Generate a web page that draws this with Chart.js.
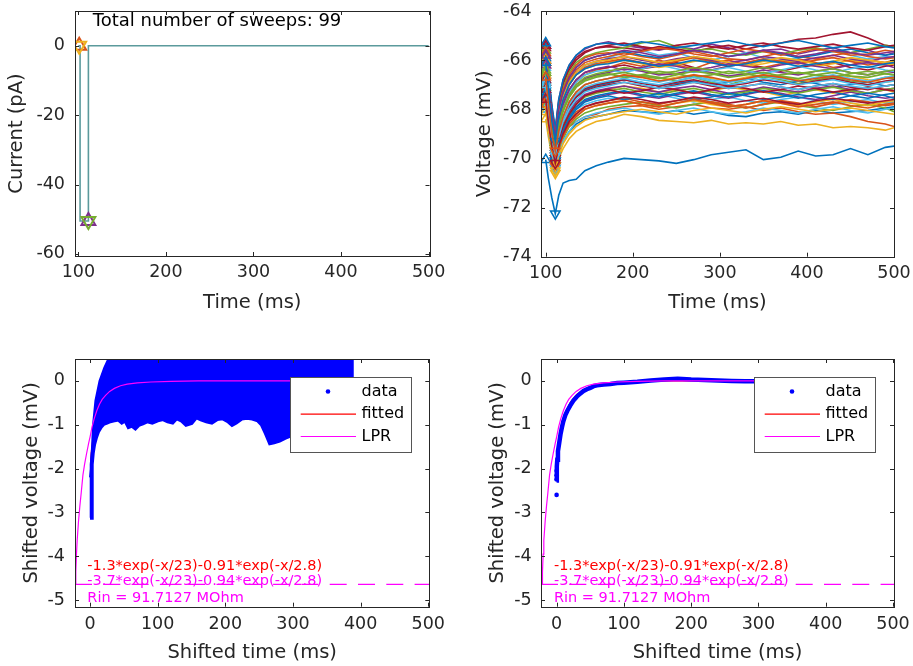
<!DOCTYPE html>
<html><head><meta charset="utf-8">
<script src="https://cdn.jsdelivr.net/npm/chart.js@4.4.1/dist/chart.umd.min.js"></script>
<style>
html,body{margin:0;padding:0;background:#fff;width:913px;height:666px;overflow:hidden}
canvas{position:absolute}
</style></head><body>
<canvas id="c1" width="456" height="333" style="left:0;top:0"></canvas>
<canvas id="c2" width="457" height="333" style="left:456px;top:0"></canvas>
<canvas id="c3" width="456" height="333" style="left:0;top:333px"></canvas>
<canvas id="c4" width="457" height="333" style="left:456px;top:333px"></canvas>
<script>
// ---------------- DATA ----------------
const sweepCount = 99;
const currentTimes = [100, 102, 102, 111.5, 111.5, 500];
const currentValues = [0, 0, -50.5, -50.5, 0, 0];
const currentMarkerTimes = [101, 111.5];
const currentMarkerValues = [0, -50.5];

const sweepTimes = [100,103,107,111,115,120,127,135,145,158,172,190,210,230,250,270,290,310,330,350,370,390,410,430,450,470,490,500];
const sweepVoltages = [
 [-70.05,-70.8,-71.6,-72.25,-71.5,-71.0,-70.9,-70.85,-70.5,-70.3,-70.15,-70.0,-70.05,-70.1,-70.2,-70.05,-69.85,-69.75,-69.65,-70.05,-69.95,-69.7,-69.9,-69.85,-69.6,-69.85,-69.55,-69.5],
 [-66.1,-67.3,-68.6,-69.5,-68.5,-67.8,-67.3,-66.9,-66.6,-66.4,-66.3,-66.1,-66.25,-66.0,-66.2,-66.35,-66.1,-66.0,-66.2,-66.3,-66.15,-65.95,-66.1,-66.3,-66.2,-66.0,-66.1,-66.15],
 [-68.4,-69.1,-69.9,-70.6,-70.0,-69.6,-69.2,-68.9,-68.7,-68.5,-68.4,-68.2,-68.3,-68.45,-68.5,-68.55,-68.45,-68.6,-68.55,-68.6,-68.5,-68.65,-68.6,-68.75,-68.7,-68.75,-68.85,-68.75],
 [-65.4,-66.6,-68.0,-68.9,-67.6,-66.8,-66.2,-65.8,-65.55,-65.35,-65.25,-65.4,-65.5,-65.6,-65.45,-65.55,-65.35,-65.5,-65.7,-65.6,-65.55,-65.75,-65.6,-65.5,-65.7,-65.6,-65.8,-65.7],
 [-66.9,-68.0,-69.1,-69.8,-69.0,-68.4,-67.9,-67.5,-67.2,-67.0,-66.9,-66.75,-66.6,-66.7,-66.85,-66.7,-66.9,-67.0,-66.8,-66.65,-66.8,-66.95,-66.8,-66.7,-66.85,-66.9,-66.7,-66.75],
 [-65.8,-67.0,-68.3,-69.2,-68.2,-67.5,-66.9,-66.6,-66.3,-66.1,-65.9,-65.7,-65.6,-65.8,-65.7,-65.9,-66.0,-65.85,-65.7,-65.9,-66.05,-65.9,-65.75,-65.6,-65.8,-65.95,-65.85,-65.9],
 [-65.5,-66.7,-68.0,-69.0,-67.8,-67.0,-66.4,-66.0,-65.7,-65.5,-65.45,-65.5,-65.6,-65.45,-65.55,-65.65,-65.5,-65.4,-65.55,-65.4,-65.3,-65.15,-65.1,-64.95,-64.85,-65.1,-65.4,-65.45],
 [-68.0,-68.8,-69.7,-70.4,-69.8,-69.3,-68.9,-68.6,-68.4,-68.3,-68.2,-68.05,-68.1,-68.15,-68.05,-68.2,-68.1,-68.25,-68.3,-68.15,-68.1,-68.2,-68.05,-68.15,-68.1,-68.05,-67.95,-67.9],
 [-67.7,-68.6,-69.6,-70.3,-69.6,-69.1,-68.7,-68.5,-68.3,-68.2,-68.0,-67.9,-67.85,-68.0,-67.9,-67.8,-67.95,-68.0,-67.9,-68.05,-67.95,-68.1,-68.2,-68.15,-68.3,-68.5,-68.6,-68.7],
 [-67.1,-68.2,-69.3,-70.0,-69.2,-68.6,-68.1,-67.7,-67.45,-67.3,-67.2,-67.05,-67.15,-67.3,-67.2,-67.35,-67.25,-67.1,-67.2,-67.3,-67.45,-67.3,-67.2,-67.35,-67.25,-67.1,-67.2,-67.3],
 [-66.6,-67.6,-68.8,-69.6,-68.7,-68.0,-67.4,-67.0,-66.75,-66.6,-66.5,-66.35,-66.45,-66.6,-66.55,-66.4,-66.5,-66.65,-66.55,-66.4,-66.5,-66.6,-66.45,-66.35,-66.5,-66.6,-66.45,-66.5],
 [-65.6,-66.8,-68.1,-69.0,-67.9,-67.1,-66.5,-66.1,-65.85,-65.7,-65.6,-65.5,-65.3,-65.2,-65.45,-65.6,-65.55,-65.7,-65.8,-65.65,-65.75,-65.6,-65.5,-65.65,-65.7,-65.55,-65.4,-65.45],
 [-67.6,-68.5,-69.5,-70.2,-69.4,-68.9,-68.4,-68.0,-67.8,-67.65,-67.55,-67.6,-67.5,-67.4,-67.55,-67.7,-67.6,-67.5,-67.65,-67.75,-67.6,-67.5,-67.65,-67.8,-67.7,-67.6,-67.75,-67.7],
 [-66.2,-67.3,-68.6,-69.4,-68.4,-67.7,-67.2,-66.8,-66.5,-66.35,-66.3,-66.2,-66.35,-66.25,-66.1,-66.3,-66.4,-66.25,-66.15,-66.3,-66.45,-66.3,-66.2,-66.1,-66.3,-66.4,-66.25,-66.2],
 [-67.0,-68.0,-69.2,-69.9,-69.1,-68.5,-67.9,-67.5,-67.2,-67.05,-66.95,-66.8,-66.9,-67.05,-66.95,-66.85,-67.0,-66.9,-66.75,-66.9,-67.0,-66.85,-66.95,-67.1,-67.0,-66.9,-67.05,-67.0],
 [-65.8,-67.0,-68.3,-69.1,-68.1,-67.4,-66.8,-66.4,-66.1,-65.95,-65.85,-65.7,-65.85,-65.95,-65.8,-65.65,-65.8,-65.95,-66.0,-65.85,-65.7,-65.85,-65.95,-65.8,-65.7,-65.85,-65.95,-65.9],
 [-66.6,-67.7,-68.9,-69.7,-68.9,-68.3,-67.7,-67.3,-67.0,-66.85,-66.75,-66.6,-66.7,-66.85,-66.7,-66.6,-66.75,-66.85,-66.7,-66.6,-66.7,-66.8,-66.9,-66.75,-66.65,-66.8,-66.9,-66.85],
 [-67.5,-68.4,-69.4,-70.1,-69.4,-68.8,-68.3,-67.9,-67.65,-67.5,-67.4,-67.3,-67.45,-67.55,-67.4,-67.3,-67.45,-67.55,-67.4,-67.25,-67.35,-67.5,-67.6,-67.45,-67.3,-67.45,-67.55,-67.5],
 [-67.9,-68.7,-69.6,-70.3,-69.7,-69.2,-68.7,-68.4,-68.15,-68.0,-67.9,-67.8,-67.7,-67.85,-67.95,-67.8,-67.7,-67.85,-67.95,-67.8,-67.7,-67.85,-67.95,-68.05,-67.9,-67.8,-67.95,-68.1],
 [-66.3,-67.4,-68.7,-69.5,-68.6,-67.9,-67.3,-66.9,-66.6,-66.45,-66.4,-66.5,-66.35,-66.2,-66.35,-66.5,-66.4,-66.3,-66.45,-66.55,-66.4,-66.25,-66.4,-66.5,-66.35,-66.25,-66.4,-66.45],
 [-66.9,-68.0,-69.2,-69.9,-69.1,-68.5,-67.9,-67.5,-67.25,-67.1,-67.0,-66.9,-67.05,-67.15,-67.0,-66.9,-67.05,-67.15,-67.05,-66.95,-67.1,-67.2,-67.05,-66.95,-67.1,-67.2,-67.05,-67.0],
 [-65.9,-67.0,-68.3,-69.1,-68.0,-67.3,-66.7,-66.3,-66.0,-65.85,-65.75,-65.65,-65.8,-65.9,-65.75,-65.6,-65.7,-65.85,-65.75,-65.6,-65.75,-65.9,-65.8,-65.65,-65.55,-65.7,-65.8,-65.75],
 [-67.5,-68.4,-69.5,-70.2,-69.5,-69.0,-68.5,-68.1,-67.9,-67.75,-67.65,-67.55,-67.7,-67.8,-67.65,-67.55,-67.7,-67.8,-67.95,-67.8,-67.65,-67.75,-67.9,-67.75,-67.6,-67.7,-67.85,-67.8],
 [-66.0,-67.1,-68.4,-69.3,-68.3,-67.6,-67.0,-66.6,-66.35,-66.2,-66.1,-66.0,-66.15,-66.3,-66.2,-66.05,-65.95,-66.1,-66.25,-66.15,-66.0,-66.1,-66.25,-66.15,-66.0,-66.1,-66.2,-66.15],
 [-67.2,-68.2,-69.3,-70.0,-69.3,-68.7,-68.1,-67.7,-67.4,-67.25,-67.15,-67.05,-67.2,-67.3,-67.15,-67.05,-67.2,-67.35,-67.25,-67.1,-67.2,-67.3,-67.15,-67.05,-67.2,-67.35,-67.2,-67.15],
 [-66.5,-67.6,-68.8,-69.6,-68.7,-68.1,-67.5,-67.1,-66.85,-66.7,-66.6,-66.5,-66.65,-66.75,-66.6,-66.45,-66.55,-66.7,-66.6,-66.5,-66.65,-66.75,-66.6,-66.5,-66.65,-66.7,-66.55,-66.6],
 [-68.0,-68.8,-69.7,-70.4,-69.8,-69.3,-68.9,-68.5,-68.3,-68.15,-68.05,-67.95,-68.1,-68.2,-68.05,-67.95,-68.1,-68.2,-68.1,-67.95,-68.05,-68.15,-68.0,-67.9,-68.05,-68.15,-68.0,-67.95],
 [-65.4,-66.6,-67.9,-68.9,-67.7,-66.9,-66.3,-65.9,-65.65,-65.5,-65.4,-65.3,-65.45,-65.55,-65.4,-65.3,-65.45,-65.55,-65.4,-65.3,-65.45,-65.55,-65.45,-65.35,-65.5,-65.6,-65.45,-65.4],
 [-67.3,-68.3,-69.4,-70.1,-69.4,-68.8,-68.3,-67.9,-67.6,-67.45,-67.35,-67.25,-67.4,-67.5,-67.35,-67.25,-67.4,-67.5,-67.35,-67.25,-67.4,-67.55,-67.4,-67.3,-67.45,-67.55,-67.4,-67.35],
 [-66.1,-67.2,-68.5,-69.3,-68.3,-67.6,-67.0,-66.6,-66.3,-66.15,-66.05,-65.95,-66.1,-66.2,-66.05,-65.9,-66.05,-66.2,-66.1,-65.95,-66.05,-66.15,-66.0,-65.9,-66.05,-66.2,-66.1,-66.0],
 [-67.8,-68.6,-69.6,-70.3,-69.6,-69.1,-68.6,-68.3,-68.0,-67.85,-67.75,-67.65,-67.8,-67.9,-67.75,-67.65,-67.8,-67.9,-67.8,-67.65,-67.75,-67.85,-67.7,-67.6,-67.75,-67.85,-67.7,-67.65],
 [-66.0,-67.1,-68.4,-69.2,-68.2,-67.5,-66.9,-66.5,-66.2,-66.05,-65.95,-65.85,-66.0,-66.1,-65.95,-65.85,-66.0,-66.1,-66.0,-65.85,-65.95,-66.05,-65.9,-65.8,-65.95,-66.05,-65.9,-65.85],
 [-67.1,-68.2,-69.3,-70.0,-69.3,-68.7,-68.2,-67.8,-67.5,-67.35,-67.25,-67.15,-67.3,-67.4,-67.25,-67.15,-67.3,-67.4,-67.3,-67.15,-67.25,-67.35,-67.2,-67.1,-67.25,-67.35,-67.2,-67.15],
 [-66.8,-67.8,-69.0,-69.7,-68.9,-68.3,-67.7,-67.3,-67.0,-66.85,-66.75,-66.65,-66.8,-66.9,-66.75,-66.65,-66.8,-66.9,-66.8,-66.65,-66.75,-66.85,-66.7,-66.6,-66.75,-66.85,-66.7,-66.65],
 [-66.8,-67.9,-69.1,-69.8,-69.0,-68.4,-67.8,-67.4,-67.15,-67.0,-66.9,-66.8,-66.95,-67.05,-66.9,-66.8,-66.95,-67.05,-66.95,-66.8,-66.9,-67.0,-66.85,-66.75,-66.9,-67.0,-66.85,-66.8],
 [-65.3,-66.5,-67.8,-68.8,-67.6,-66.8,-66.2,-65.8,-65.5,-65.35,-65.3,-65.4,-65.25,-65.35,-65.5,-65.4,-65.3,-65.2,-65.35,-65.45,-65.3,-65.2,-65.35,-65.5,-65.4,-65.3,-65.45,-65.5],
 [-65.7,-66.9,-68.2,-69.1,-68.0,-67.2,-66.6,-66.2,-65.9,-65.75,-65.7,-65.8,-65.65,-65.5,-65.6,-65.75,-65.85,-65.7,-65.55,-65.65,-65.8,-65.7,-65.55,-65.65,-65.8,-65.75,-65.6,-65.65],
 [-66.0,-67.1,-68.4,-69.3,-68.2,-67.5,-66.9,-66.5,-66.2,-66.05,-66.0,-65.85,-65.95,-66.1,-66.0,-65.85,-65.95,-66.1,-66.2,-66.05,-65.9,-66.0,-66.15,-66.05,-65.9,-66.0,-66.1,-66.05],
 [-66.2,-67.3,-68.6,-69.4,-68.5,-67.8,-67.2,-66.8,-66.5,-66.35,-66.25,-66.4,-66.3,-66.15,-66.25,-66.4,-66.3,-66.15,-66.25,-66.35,-66.2,-66.1,-66.25,-66.35,-66.2,-66.1,-66.2,-66.3],
 [-66.5,-67.6,-68.8,-69.6,-68.7,-68.0,-67.5,-67.1,-66.8,-66.65,-66.55,-66.7,-66.6,-66.45,-66.55,-66.7,-66.6,-66.45,-66.55,-66.7,-66.6,-66.5,-66.6,-66.7,-66.55,-66.45,-66.55,-66.6],
 [-66.9,-67.9,-69.1,-69.8,-69.0,-68.4,-67.8,-67.4,-67.1,-66.95,-66.85,-66.75,-66.9,-67.0,-66.85,-66.7,-66.85,-67.0,-66.9,-66.75,-66.85,-67.0,-66.9,-66.8,-66.95,-67.05,-66.9,-66.85],
 [-67.2,-68.2,-69.3,-70.0,-69.3,-68.7,-68.2,-67.8,-67.45,-67.3,-67.2,-67.35,-67.25,-67.1,-67.2,-67.35,-67.2,-67.05,-67.15,-67.3,-67.2,-67.05,-67.15,-67.3,-67.2,-67.1,-67.2,-67.25],
 [-67.4,-68.3,-69.4,-70.1,-69.4,-68.9,-68.4,-68.0,-67.7,-67.55,-67.45,-67.6,-67.5,-67.35,-67.45,-67.6,-67.5,-67.35,-67.45,-67.6,-67.5,-67.4,-67.5,-67.6,-67.45,-67.35,-67.45,-67.55],
 [-67.8,-68.6,-69.6,-70.3,-69.6,-69.1,-68.6,-68.3,-68.0,-67.85,-67.75,-67.65,-67.8,-67.9,-67.75,-67.6,-67.75,-67.9,-67.8,-67.65,-67.75,-67.9,-67.8,-67.7,-67.85,-67.95,-67.8,-67.75],
 [-68.1,-68.8,-69.7,-70.5,-69.9,-69.4,-69.0,-68.7,-68.45,-68.3,-68.2,-68.1,-68.0,-68.1,-68.2,-68.05,-67.95,-68.05,-68.15,-68.0,-67.9,-68.0,-68.1,-68.0,-67.95,-68.05,-68.15,-68.2],
 [-65.8,-66.9,-68.2,-69.1,-68.0,-67.3,-66.7,-66.3,-66.0,-65.85,-65.75,-65.6,-65.7,-65.85,-65.75,-65.6,-65.7,-65.85,-65.75,-65.6,-65.7,-65.85,-65.75,-65.6,-65.7,-65.8,-65.7,-65.65],
 [-66.4,-67.5,-68.7,-69.5,-68.6,-68.0,-67.4,-67.0,-66.7,-66.55,-66.45,-66.3,-66.4,-66.55,-66.45,-66.3,-66.4,-66.55,-66.45,-66.3,-66.4,-66.55,-66.45,-66.35,-66.5,-66.6,-66.45,-66.4],
 [-67.0,-68.1,-69.2,-69.9,-69.1,-68.5,-68.0,-67.6,-67.3,-67.15,-67.05,-66.9,-67.0,-67.15,-67.05,-66.9,-67.0,-67.15,-67.05,-66.95,-67.1,-67.2,-67.05,-66.95,-67.05,-67.15,-67.05,-67.0],
 [-67.6,-68.5,-69.5,-70.2,-69.5,-69.0,-68.5,-68.2,-67.9,-67.75,-67.65,-67.5,-67.6,-67.75,-67.65,-67.5,-67.6,-67.75,-67.65,-67.55,-67.7,-67.8,-67.65,-67.55,-67.65,-67.75,-67.65,-67.6],
 [-66.1,-67.2,-68.5,-69.3,-68.3,-67.6,-67.0,-66.6,-66.35,-66.2,-66.15,-66.0,-66.1,-66.25,-66.15,-66.0,-66.1,-66.25,-66.15,-66.0,-66.1,-66.25,-66.15,-66.05,-66.2,-66.3,-66.15,-66.1],
 [-66.7,-67.8,-69.0,-69.7,-68.9,-68.3,-67.7,-67.3,-67.0,-66.85,-66.75,-66.6,-66.7,-66.85,-66.75,-66.6,-66.7,-66.85,-66.75,-66.6,-66.7,-66.85,-66.75,-66.65,-66.8,-66.9,-66.75,-66.7]
];

const topXTicks = [100, 200, 300, 400, 500];
const currentYTicks = [-60, -40, -20, 0];
const voltageYTicks = [-74, -72, -70, -68, -66, -64];
const shiftedXTicks = [0, 100, 200, 300, 400, 500];
const shiftedYTicks = [-5, -4, -3, -2, -1, 0];

// bottom-left: cloud of all sweeps (outline of the dot band)
const bandLowerTimes = [0,1.5,2.5,4,6,9,12,16,20,25,30,36,42,47,52,57,62,67,72,78,85,92,100,108,115,122,128,135,142,150,157,164,172,180,188,196,204,210,216,224,232,240,248,254,260,266,272,280,288,296,310,330,350,370,390];
const bandLowerValues = [-3.12,-3.12,-1.9,-1.65,-1.45,-1.28,-1.15,-1.05,-0.98,-0.95,-0.92,-0.9,-0.88,-0.95,-0.9,-1.05,-1.02,-1.08,-1.0,-0.97,-0.92,-0.95,-0.9,-0.87,-0.92,-0.95,-0.85,-0.9,-1.0,-0.96,-0.83,-0.88,-0.92,-0.95,-0.87,-0.85,-0.92,-1.0,-0.95,-0.86,-0.84,-0.86,-0.9,-1.0,-1.2,-1.42,-1.4,-1.36,-1.3,-1.25,-1.2,-1.15,-1.1,-1.1,-1.05];
const bandUpperTimes = [0, 1.5, 4.5, 8, 14, 21, 30, 390];
const bandUpperValues = [-2.2, -2.0, -1.0, -0.45, 0, 0.3, 0.6, 0.6];

// bottom-right: averaged data
const dataTimes = [0,0.3,1,2,4,6,8,10,13,16,20,25,30,35,40,45,50,55,60,70,80,90,100,120,140,160,180,200,220,240,260,280,300,330,360,390];
const dataValues = [-2.27,-1.95,-1.8,-1.6,-1.4,-1.2,-1.05,-0.92,-0.78,-0.68,-0.57,-0.45,-0.36,-0.29,-0.23,-0.19,-0.16,-0.12,-0.1,-0.08,-0.07,-0.05,-0.04,-0.02,0.01,0.03,0.05,0.03,0.02,0.01,0,-0.01,-0.01,-0.02,-0.01,-0.01];
const dataDotTimes = [0, 0, 0, 0];
const dataDotValues = [-2.6, -2.25, -2.15, -2.05];

const fitTimes = [0,1,2,4,6,8,10,13,16,20,25,30,40,50,60,80,100,130,170,220,300,390];
const fitValues = [-2.2,-1.85,-1.6,-1.35,-1.17,-1.02,-0.89,-0.74,-0.63,-0.5,-0.4,-0.31,-0.2,-0.15,-0.1,-0.05,-0.02,-0.01,0,0,0,0];

const lprTimes = [-21.5,-21,-20,-19,-17,-15,-13,-10.5,-8,-5,-2,0,3,6,10,14,18,23,29,36,45,55,70,90,120,160,390];
const lprValues = [-4.64,-4.35,-3.95,-3.64,-3.2,-2.85,-2.55,-2.15,-1.9,-1.65,-1.42,-1.28,-1.05,-0.87,-0.68,-0.53,-0.42,-0.33,-0.24,-0.17,-0.11,-0.075,-0.045,-0.025,-0.01,0,0];
const lprBaseline = -4.64;

const fitLabel = '-1.3*exp(-x/23)-0.91*exp(-x/2.8)';
const lprLabel = '-3.7*exp(-x/23)-0.94*exp(-x/2.8)';
const rinLabel = 'Rin = 91.7127 MOhm';
const legendLabels = ['data', 'fitted', 'LPR'];

// ---------------- STYLE ----------------
const FONT = "'DejaVu Sans', 'Liberation Sans', sans-serif";
const INK = '#262626';
const CYCLE = ['#0072BD', '#D95319', '#EDB120', '#7E2F8E', '#77AC30', '#4DBEEE', '#A2142F'];
const zip = (xs, ys) => xs.map((x, i) => ({ x, y: ys[i] }));

function makeScale(o) {
  const horiz = o.horiz;
  return {
    type: 'linear', min: o.min, max: o.max,
    afterBuildTicks: s => { s.ticks = o.ticks.map(v => ({ value: v })); },
    afterFit: s => {
      if (horiz) s.height = o.size; else s.width = o.size;
      s.paddingTop = 0; s.paddingBottom = 0; s.paddingLeft = 0; s.paddingRight = 0;
    },
    grid: { display: false, drawTicks: false },
    border: { display: false },
    ticks: { padding: o.tickPad, color: INK, font: { family: FONT, size: 17.5 }, autoSkip: false, maxRotation: 0, callback: v => String(v) },
    title: { display: true, text: o.title, color: INK, font: { family: FONT, size: 19.5 },
             padding: horiz ? { top: 0, bottom: o.titlePad } : { top: o.titlePad, bottom: 0 } }
  };
}

function extras(cfg) {
  return {
    id: 'extras',
    afterDatasetsDraw(chart) {
      const { ctx, chartArea: a, scales: { x, y } } = chart;
      ctx.save();
      ctx.strokeStyle = INK; ctx.lineWidth = 1;
      ctx.beginPath();
      x.ticks.forEach(t => {
        const p = Math.round(x.getPixelForValue(t.value)) + 0.5;
        ctx.moveTo(p, a.bottom); ctx.lineTo(p, a.bottom - 4);
        ctx.moveTo(p, a.top); ctx.lineTo(p, a.top + 4);
      });
      y.ticks.forEach(t => {
        const p = Math.round(y.getPixelForValue(t.value)) + 0.5;
        ctx.moveTo(a.left, p); ctx.lineTo(a.left + 4, p);
        ctx.moveTo(a.right, p); ctx.lineTo(a.right - 4, p);
      });
      ctx.stroke();
      ctx.strokeRect(Math.round(a.left) + 0.5, Math.round(a.top) + 0.5, Math.round(a.right - a.left), Math.round(a.bottom - a.top));
      (cfg.texts || []).forEach(t => {
        ctx.font = t.size + 'px ' + FONT;
        ctx.fillStyle = t.color; ctx.textAlign = 'left'; ctx.textBaseline = 'middle';
        ctx.fillText(t.text, x.getPixelForValue(t.x), y.getPixelForValue(t.y));
      });
      if (cfg.legend) {
        const w = 121, h = 75;
        const x0 = Math.round(a.right - 18.7 - w), y0 = Math.round(a.top + 18);
        ctx.fillStyle = '#fff'; ctx.fillRect(x0, y0, w, h);
        ctx.strokeStyle = '#555'; ctx.lineWidth = 1; ctx.strokeRect(x0 + 0.5, y0 + 0.5, w, h);
        const rows = [14.5, 37.2, 59.5];
        ctx.font = '16px ' + FONT; ctx.textAlign = 'left'; ctx.textBaseline = 'middle';
        ctx.fillStyle = '#0000FF'; ctx.beginPath(); ctx.arc(x0 + 38, y0 + rows[0], 2.3, 0, Math.PI * 2); ctx.fill();
        ctx.lineWidth = 1.2;
        ctx.strokeStyle = '#FF0000'; ctx.beginPath(); ctx.moveTo(x0 + 10.7, y0 + rows[1]); ctx.lineTo(x0 + 66, y0 + rows[1]); ctx.stroke();
        ctx.strokeStyle = '#FF00FF'; ctx.beginPath(); ctx.moveTo(x0 + 10.7, y0 + rows[2]); ctx.lineTo(x0 + 66, y0 + rows[2]); ctx.stroke();
        ctx.fillStyle = '#000';
        legendLabels.forEach((l, i) => ctx.fillText(l, x0 + 71.5, y0 + rows[i]));
      }
      ctx.restore();
    }
  };
}

function baseOptions(o) {
  return {
    responsive: false, animation: false, devicePixelRatio: 1,
    layout: { padding: o.pad },
    plugins: { legend: { display: false }, tooltip: { enabled: false } },
    elements: { line: { tension: 0 }, point: { radius: 0 } },
    scales: { x: makeScale(o.x), y: makeScale(o.y) }
  };
}

// ---------------- TOP LEFT: current ----------------
new Chart(document.getElementById('c1'), {
  type: 'line',
  data: { datasets: [
    { data: zip(currentMarkerTimes, currentMarkerValues), showLine: false, pointStyle: 'triangle', pointRadius: 8,
      pointBorderColor: ['#EDB120', '#77AC30'], pointBackgroundColor: 'rgba(0,0,0,0)', pointBorderWidth: 2, pointRotation: 180, order: 1 },
    { data: zip(currentMarkerTimes, currentMarkerValues), showLine: false, pointStyle: 'triangle', pointRadius: 8,
      pointBorderColor: ['#D95319', '#7E2F8E'], pointBackgroundColor: 'rgba(0,0,0,0)', pointBorderWidth: 2, order: 2 },
    { data: zip(currentTimes, currentValues), borderColor: '#5B9A9C', borderWidth: 1.6, pointRadius: 0, order: 3 }
  ]},
  options: baseOptions({
    pad: { left: 0, top: 11, right: 26.5, bottom: 0 },
    x: { horiz: true, min: 96.2, max: 501, ticks: topXTicks, size: 77, tickPad: 6, title: 'Time (ms)', titlePad: 18.8 },
    y: { horiz: false, min: -60.6, max: 10, ticks: currentYTicks, size: 75, tickPad: 10, title: 'Current (pA)', titlePad: 5.3 }
  }),
  plugins: [extras({ texts: [{ x: 116.5, y: 7.0, text: 'Total number of sweeps: ' + sweepCount, color: '#000', size: 18 }] })]
});

// ---------------- TOP RIGHT: voltage sweeps ----------------
const N = sweepVoltages.length;
new Chart(document.getElementById('c2'), {
  type: 'line',
  data: { datasets: sweepVoltages.map((row, i) => {
    const c = CYCLE[i % CYCLE.length];
    return {
      data: zip(sweepTimes, row), borderColor: c, borderWidth: 1.6,
      pointStyle: 'triangle',
      pointRadius: ctx => (ctx.dataIndex === 0 || ctx.dataIndex === 3) ? 5.5 : 0,
      pointRotation: ctx => ctx.dataIndex === 3 ? 180 : 0,
      pointBorderColor: c, pointBackgroundColor: 'rgba(0,0,0,0)', pointBorderWidth: 1.5,
      order: N - i
    };
  })},
  options: baseOptions({
    pad: { left: 0, top: 11, right: 19, bottom: 0 },
    x: { horiz: true, min: 94.6, max: 500, ticks: topXTicks, size: 76.3, tickPad: 6, title: 'Time (ms)', titlePad: 18.8 },
    y: { horiz: false, min: -74, max: -64, ticks: voltageYTicks, size: 85, tickPad: 9.3, title: 'Voltage (mV)', titlePad: 17.3 }
  }),
  plugins: [extras({})]
});

// ---------------- BOTTOM: shifted ----------------
function bottomTexts() {
  return [
    { x: -4, y: -4.22, text: fitLabel, color: '#FF0000', size: 14.5 },
    { x: -4, y: -4.56, text: lprLabel, color: '#FF00FF', size: 14.5 },
    { x: -4, y: -4.96, text: rinLabel, color: '#FF00FF', size: 14.5 }
  ];
}
function commonBottomSets(xmin, xmax) {
  return [
    { data: zip(lprTimes, lprValues), borderColor: '#FF00FF', borderWidth: 1.2, pointRadius: 0, order: 1 },
    { data: [{ x: xmin, y: lprBaseline }, { x: xmax, y: lprBaseline }], borderColor: '#FF00FF', borderWidth: 1.2, borderDash: [17, 11.3], pointRadius: 0, order: 2 },
    { data: zip(fitTimes, fitValues), borderColor: '#FF0000', borderWidth: 1.2, pointRadius: 0, order: 10 }
  ];
}

const blMin = -22.2, blMax = 501.5;
new Chart(document.getElementById('c3'), {
  type: 'line',
  data: { datasets: [
    { data: zip(bandLowerTimes, bandLowerValues), borderColor: '#0000FF', borderWidth: 4, pointRadius: 0, fill: '+1', backgroundColor: '#0000FF', order: 3 },
    { data: zip(bandUpperTimes, bandUpperValues), borderColor: '#0000FF', borderWidth: 2, pointRadius: 0, order: 4 },
    ...commonBottomSets(blMin, blMax)
  ]},
  options: baseOptions({
    pad: { left: 0, top: 26, right: 26.7, bottom: 0 },
    x: { horiz: true, min: blMin, max: blMax, ticks: shiftedXTicks, size: 59.3, tickPad: 7.5, title: 'Shifted time (ms)', titlePad: 1 },
    y: { horiz: false, min: -5.15, max: 0.5, ticks: shiftedYTicks, size: 75, tickPad: 10, title: 'Shifted voltage (mV)', titlePad: 19.8 }
  }),
  plugins: [extras({ texts: bottomTexts(), legend: true })]
});

const brMin = -23.2, brMax = 501.5;
new Chart(document.getElementById('c4'), {
  type: 'line',
  data: { datasets: [
    { data: zip(dataTimes, dataValues), borderColor: '#0000FF', borderWidth: 4.5, pointRadius: 0, order: 3 },
    { data: zip(dataDotTimes, dataDotValues), showLine: false, pointRadius: 2.3, pointBackgroundColor: '#0000FF', pointBorderWidth: 0, order: 3 },
    ...commonBottomSets(brMin, brMax)
  ]},
  options: baseOptions({
    pad: { left: 0, top: 26, right: 19, bottom: 0 },
    x: { horiz: true, min: brMin, max: brMax, ticks: shiftedXTicks, size: 59.3, tickPad: 7.5, title: 'Shifted time (ms)', titlePad: 1 },
    y: { horiz: false, min: -5.15, max: 0.5, ticks: shiftedYTicks, size: 85, tickPad: 9.3, title: 'Shifted voltage (mV)', titlePad: 30.3 }
  }),
  plugins: [extras({ texts: bottomTexts(), legend: true })]
});
</script>
</body></html>
